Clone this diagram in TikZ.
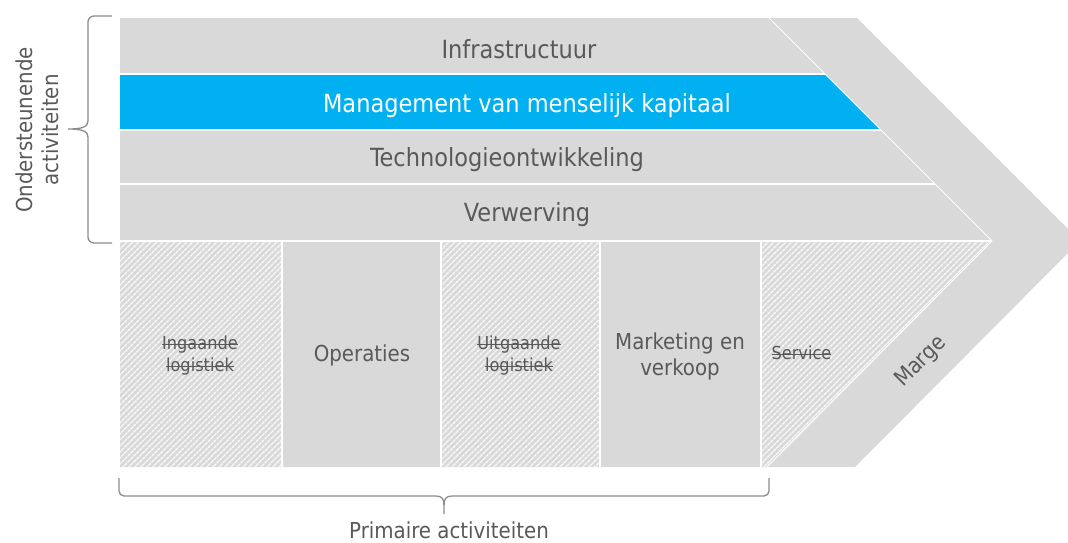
\documentclass[tikz,border=0pt]{standalone}
\usepackage{fontspec}
\setmainfont{DejaVu Sans Condensed}
\usetikzlibrary{patterns.meta}
\definecolor{bandgray}{HTML}{D9D9D9}
\definecolor{txtgray}{HTML}{595959}
\definecolor{bandblue}{HTML}{00B0F0}
\definecolor{bracegray}{HTML}{8C8C8C}
\newlength{\strklen}
\newcommand{\strk}[1]{\settowidth{\strklen}{#1}\makebox[0pt][l]{\rule[0.27em]{\strklen}{1.1pt}}#1}
\begin{document}
\begin{tikzpicture}[x=1pt,y=-1pt,
  rowtext/.style={font=\fontsize{25}{30}\selectfont, text=txtgray, anchor=base},
  primtext/.style={font=\fontsize{22}{26}\selectfont, text=txtgray, align=center},
  striketext/.style={font=\fontsize{18}{22}\selectfont, text=txtgray, align=center},
  sep/.style={draw=white, line width=2pt},
  hatch/.style={fill=bandgray, postaction={pattern={Lines[angle=45,distance=4pt,line width=1.4pt]}, pattern color=white!85!bandgray}},
  bracestroke/.style={draw=bracegray, line width=1.3pt}]
\useasboundingbox (0,0) rectangle (1068,542);
% main shape with chevron
\fill[bandgray] (120,18) -- (857,18) -- (1073,234) .. controls (1080,241) .. (1073,248) -- (855,467) -- (120,467) -- cycle;
% highlighted row
\fill[bandblue] (120,75) -- (826,75) -- (880,129) -- (120,129) -- cycle;
% hatched (struck) activities
\path[hatch] (120,242) rectangle (281,467);
\path[hatch] (442,242) rectangle (599,467);
\path[hatch] (762,242) -- (990,242) -- (766,467) -- (762,467) -- cycle;
% separators
\draw[sep] (120,74) -- (825,74);
\draw[sep] (120,130) -- (881,130);
\draw[sep] (120,184) -- (935,184);
\draw[sep] (120,241) -- (992,241);
\draw[draw=white, line width=1pt] (769,18) -- (992,241) -- (767,467);
\draw[sep] (282,241) -- (282,467);
\draw[sep] (441,241) -- (441,467);
\draw[sep] (600,241) -- (600,467);
\draw[sep] (761,241) -- (761,467);
% texts
\node[rowtext] (infra) at (519,58) {Infrastructuur};
\node[rowtext, text=white] (hrm) at (527,112) {Management van menselijk kapitaal};
\node[rowtext] (tech) at (507,166) {Technologieontwikkeling};
\node[rowtext] (verw) at (527,221) {Verwerving};
\node[striketext] (inlog) at (200,356) {\strk{Ingaande}\\\strk{logistiek}};
\node[primtext] (oper) at (362,355) {Operaties};
\node[striketext] (uitlog) at (519,356) {\strk{Uitgaande}\\\strk{logistiek}};
\node[primtext] (mark) at (680,356) {Marketing en\\verkoop};
\node[striketext, anchor=west] (serv) at (768,353) {\strk{Service}};
\node[primtext, rotate=45, inner sep=1pt] (marge) at (921,362) {Marge};
\node[primtext, rotate=90] (onder) at (37,130) {Ondersteunende\\activiteiten};
\node[primtext, inner sep=0pt, anchor=base] (prim) at (449,538) {Primaire activiteiten};
% braces
\draw[bracestroke] (112,16) [rounded corners=6pt] -- (88,16) -- (88,70) [sharp corners] -- (88,121)
  .. controls (88,127) and (82,129) .. (68,129)
  .. controls (82,129) and (88,131) .. (88,137) -- (88,190) [rounded corners=6pt] -- (88,243) -- (112,243);
\draw[bracestroke] (119,478) [rounded corners=5pt] -- (119,496) -- (300,496) [sharp corners] -- (436,496)
  .. controls (442,496) and (444,499) .. (444,505) -- (444,514);
\draw[bracestroke] (444,505) .. controls (444,499) and (446,496) .. (452,496) -- (600,496) [rounded corners=5pt] -- (769,496) -- (769,478);
\end{tikzpicture}
\end{document}
